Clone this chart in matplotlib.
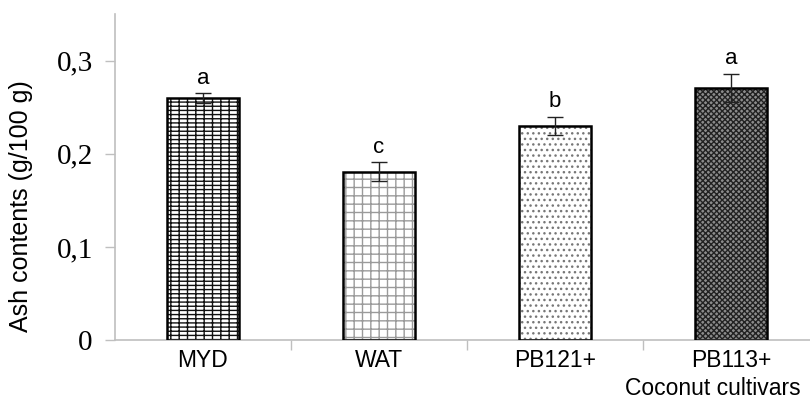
import matplotlib.pyplot as plt
import numpy as np

# datos
cultivars = ['MYD', 'WAT', 'PB121+', 'PB113+']
ash = [0.260, 0.181, 0.230, 0.271]
ash_err = [0.005, 0.010, 0.010, 0.015]
letters = ['a', 'c', 'b', 'a']
y_ticks = [0, 0.1, 0.2, 0.3]
y_tick_labels = ['0', '0,1', '0,2', '0,3']

# estilos de relleno para cada barra
hatches = ['----||', '++', '...', 'xxxxxx']
hatch_colors = ['#111111', '#9a9a9a', '#777777', '#222222']
face_colors = ['white', 'white', 'white', '#8c8c8c']

fig = plt.figure(figsize=(8.1, 4.04), dpi=100)
ax = fig.add_axes([0.142, 0.158, 0.858, 0.807])

x = np.arange(len(cultivars))
w = 0.41

# relleno con trama
for i in range(len(cultivars)):
    ax.bar(x[i], ash[i], w, color=face_colors[i], edgecolor=hatch_colors[i],
           hatch=hatches[i], linewidth=0, zorder=2)
# borde negro y barras de error
ax.bar(x, ash, w, facecolor='none', edgecolor='black', linewidth=1.8, zorder=3)
ax.errorbar(x, ash, yerr=ash_err, fmt='none', ecolor='#222222', elinewidth=1.0,
            capsize=6, capthick=1.0, zorder=4)

for i in range(len(cultivars)):
    ax.text(x[i], ash[i] + ash_err[i] + 0.005, letters[i], ha='center', va='bottom',
            fontsize=16, family='Liberation Sans')

ax.set_xlim(-0.5, 3.45)
ax.set_ylim(0, 0.35)

ax.set_yticks(y_ticks)
ax.set_yticklabels(y_tick_labels, fontsize=21, family='Liberation Serif')
ax.set_xticks(x)
ax.set_xticklabels(cultivars, fontsize=16.5, family='Liberation Sans')
ax.set_xticks(np.arange(0.5, 3.5, 1), minor=True)
ax.tick_params(axis='x', which='major', length=0, pad=6)
ax.tick_params(axis='x', which='minor', length=7, color='#bfbfbf', width=1)
ax.tick_params(axis='y', length=7, color='#bfbfbf', width=1, pad=9)

for s in ['top', 'right']:
    ax.spines[s].set_visible(False)
for s in ['left', 'bottom']:
    ax.spines[s].set_color('#bfbfbf')
    ax.spines[s].set_linewidth(1.2)

ax.set_ylabel('Ash contents (g/100 g)', fontsize=18, family='Liberation Sans')
ax.yaxis.set_label_coords(-0.118, 0.41)
ax.text(0.86, -0.148, 'Coconut cultivars', ha='center', va='center', fontsize=16.5,
        family='Liberation Sans', transform=ax.transAxes, clip_on=False)

fig.savefig('out.png', dpi=100)
